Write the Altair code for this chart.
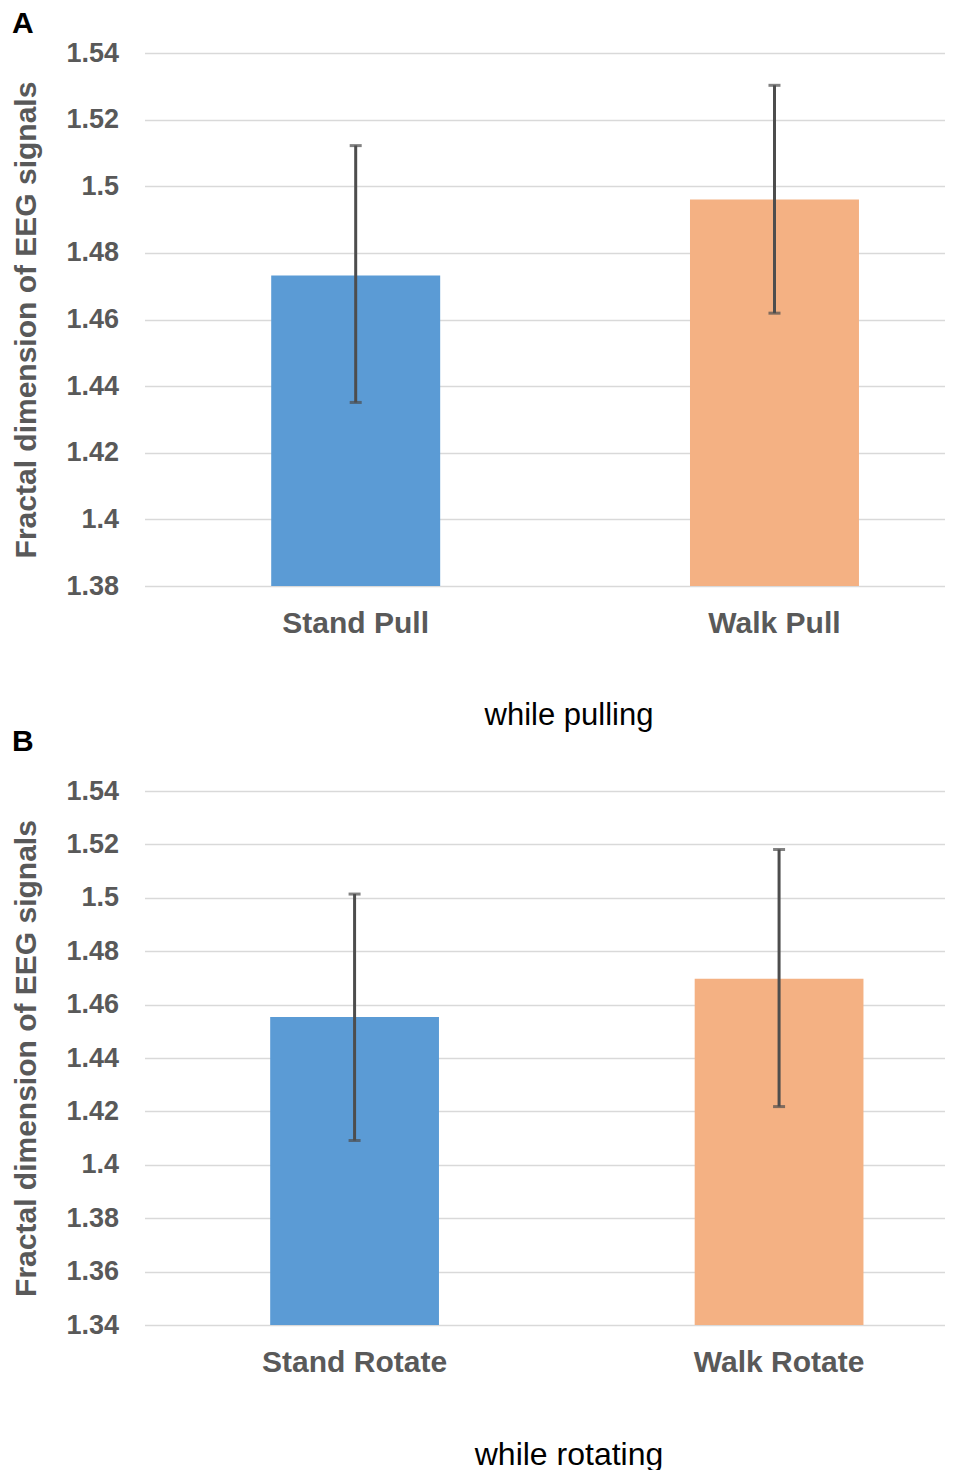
import altair as alt
import pandas as pd

# ---- data ----
cats_a = ["Stand Pull", "Walk Pull"]
mean_a = [1.4732, 1.4960]
low_a = [1.4351, 1.4619]
high_a = [1.5122, 1.5303]

cats_b = ["Stand Rotate", "Walk Rotate"]
mean_b = [1.4554, 1.4697]
low_b = [1.4091, 1.4218]
high_b = [1.5014, 1.5181]

ticks_a = [1.38, 1.40, 1.42, 1.44, 1.46, 1.48, 1.50, 1.52, 1.54]
ticks_b = [1.34, 1.36, 1.38, 1.40, 1.42, 1.44, 1.46, 1.48, 1.50, 1.52, 1.54]

colors = ["#5B9BD5", "#F4B183"]
FONT = "Liberation Sans"
GRAY = "#595959"


def panel(cats, mean, low, high, ticks, letter, xtitle, xtitle_size,
          pad_inner, pad_outer, align, height, letter_offset):
    df = pd.DataFrame({"cat": cats, "mean": mean, "low": low, "high": high})
    ymin, ymax = ticks[0], ticks[-1]
    x = alt.X(
        "cat:N",
        sort=cats,
        scale=alt.Scale(paddingInner=pad_inner, paddingOuter=pad_outer, align=align),
        axis=alt.Axis(
            title=xtitle, labelAngle=0, labelFont=FONT, labelFontSize=30,
            labelFontWeight="bold", labelColor=GRAY, labelPadding=22,
            labelLimit=500, ticks=False, tickSize=0, domain=False, grid=False,
            titleFont=FONT, titleFontSize=xtitle_size, titleFontWeight="normal",
            titleColor="#000000", titlePadding=62, titleX=424,
        ),
    )
    yscale = alt.Scale(domain=[ymin, ymax], zero=False, nice=False)
    yaxis = alt.Axis(
        title="Fractal dimension of EEG signals", values=ticks, format=".2~f",
        labelFont=FONT, labelFontSize=27, labelFontWeight="bold", labelColor=GRAY,
        labelPadding=26, ticks=False, tickSize=0, domain=False,
        grid=True, gridColor="#D9D9D9", gridWidth=1.5,
        titleFont=FONT, titleFontSize=30, titleFontWeight="bold", titleColor=GRAY,
        titlePadding=24,
    )
    base = alt.Chart(df)
    bars = base.mark_bar().encode(
        x=x,
        y=alt.Y("mean:Q", scale=yscale, axis=yaxis),
        y2=alt.datum(ymin),
        color=alt.Color("cat:N", scale=alt.Scale(domain=cats, range=colors), legend=None),
    )
    rule = base.mark_rule(color="#4D4D4D", strokeWidth=3).encode(
        x=alt.X("cat:N", sort=cats), y="low:Q", y2="high:Q"
    )
    cap_lo = base.mark_tick(color="#4D4D4D", size=12, thickness=3).encode(
        x=alt.X("cat:N", sort=cats), y="low:Q"
    )
    cap_hi = base.mark_tick(color="#4D4D4D", size=12, thickness=3).encode(
        x=alt.X("cat:N", sort=cats), y="high:Q"
    )
    return alt.layer(bars, rule, cap_lo, cap_hi).properties(
        width=800, height=height,
        title=alt.TitleParams(
            text=letter, anchor="start", frame="bounds", font=FONT, fontSize=30,
            fontWeight="bold", color="#000000", baseline="alphabetic",
            offset=letter_offset,
        ),
    )


chart_a = panel(cats_a, mean_a, low_a, high_a, ticks_a, "A", "while pulling", 31,
                0.5965, 0.2534, 0.597, 533, -24)
chart_b = panel(cats_b, mean_b, low_b, high_b, ticks_b, "B", "while rotating", 32,
                0.6024, 0.2435, 0.608, 534, -4)

chart = alt.vconcat(chart_a, chart_b, spacing=-3).properties(
    padding={"left": 3.5, "top": 1, "right": 0, "bottom": 0}
).configure(font=FONT).configure_view(stroke=None)

chart.save("out.html", embed_options={"renderer": "svg", "actions": False})
